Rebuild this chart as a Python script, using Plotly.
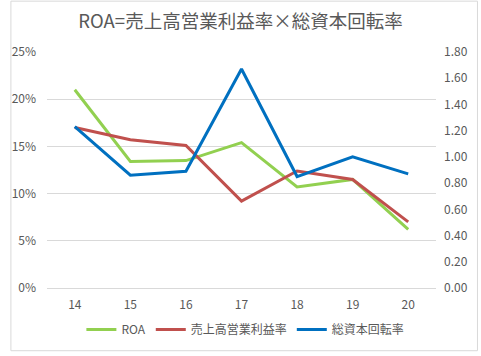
import plotly.graph_objects as go

years = ["14", "15", "16", "17", "18", "19", "20"]
roa = [0.210, 0.134, 0.135, 0.154, 0.107, 0.115, 0.062]
op_margin = [0.170, 0.157, 0.151, 0.092, 0.124, 0.115, 0.070]
asset_turnover = [1.23, 0.86, 0.89, 1.67, 0.85, 1.00, 0.87]

names = ["ROA", "売上高営業利益率", "総資本回転率"]
colors = ["#92D050", "#C0504D", "#0070C0"]

font_family = "Noto Sans CJK JP, Noto Sans, sans-serif"
gray = "#595959"
grid = "#D9D9D9"

fig = go.Figure()
fig.add_trace(go.Scatter(x=years, y=roa, name=names[0], mode="lines",
                         line=dict(color=colors[0], width=3)))
fig.add_trace(go.Scatter(x=years, y=op_margin, name=names[1], mode="lines",
                         line=dict(color=colors[1], width=3)))
fig.add_trace(go.Scatter(x=years, y=asset_turnover, name=names[2], mode="lines",
                         line=dict(color=colors[2], width=3), yaxis="y2"))

fig.update_layout(
    width=481, height=356,
    margin=dict(l=37.5, r=45, t=52, b=65),
    paper_bgcolor="white", plot_bgcolor="white",
    font=dict(family=font_family, color=gray, size=12),
    title=dict(text="ROA=売上高営業利益率×総資本回転率", x=0.5, xanchor="center",
               y=0.94, yanchor="middle", yref="container",
               font=dict(size=18.5, color=gray, family=font_family)),
    xaxis=dict(type="category", showgrid=False, showline=True, linecolor=grid,
               linewidth=1, ticks="", ticklabelstandoff=6, range=[-0.5, 6.5],
               tickfont=dict(size=12, color=gray)),
    yaxis=dict(range=[0, 0.25], dtick=0.05, tickformat=".0%", showgrid=True,
               gridcolor=grid, gridwidth=1, zeroline=False, ticks="",
               ticklabelstandoff=10, tickfont=dict(size=12, color=gray)),
    yaxis2=dict(range=[0, 1.8], dtick=0.2, tickformat=".2f", overlaying="y",
                side="right", showgrid=False, zeroline=False, ticks="",
                ticklabelstandoff=7, tickfont=dict(size=12, color=gray)),
    legend=dict(orientation="h", x=0.51, xanchor="center", y=-0.176,
                yanchor="middle", font=dict(size=12, color=gray),
                itemwidth=30, bgcolor="rgba(0,0,0,0)"),
    showlegend=True,
)

fig.add_shape(type="rect", xref="paper", yref="paper",
              x0=-0.0928, x1=1.1066, y0=-0.2657, y1=1.2155,
              line=dict(color=grid, width=1), layer="below")

fig.write_html("out.html",
               config={"displayModeBar": False},
               post_script="document.body.style.margin='0';document.body.style.overflow='hidden';")
